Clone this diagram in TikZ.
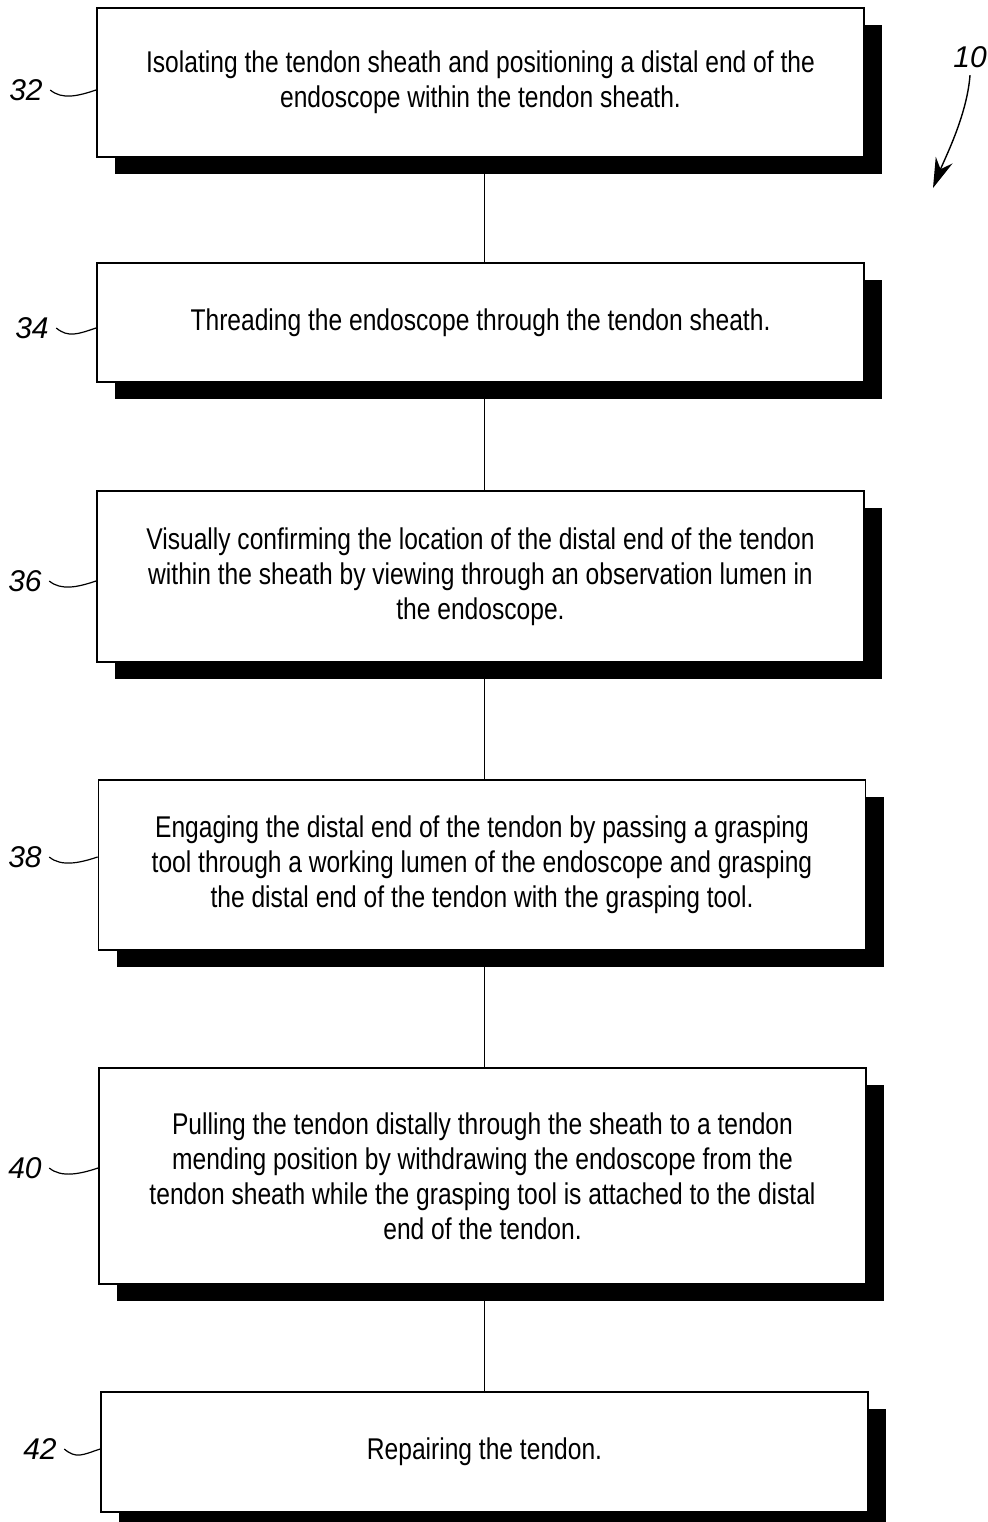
\documentclass[tikz,border=0pt]{standalone}
\usepackage{fontspec}
\setmainfont{Liberation Sans}
\newfontfamily\narrowfont[FakeStretch=0.82]{Liberation Sans}
\usetikzlibrary{shadows,arrows.meta}

\begin{document}
\begin{tikzpicture}[x=0.5pt,y=-0.5pt,line width=0.9pt,
  stepbox/.style={draw, fill=white, minimum width=383.5pt, align=center,
    font=\narrowfont\fontsize{15}{17.5}\selectfont,
    drop shadow={shadow xshift=9pt,shadow yshift=-8.5pt,fill=black,opacity=1}},
  reflabel/.style={font=\itshape\fontsize{15}{15}\selectfont}]
\useasboundingbox (0,0) rectangle (988,1522);

% steps
\node[stepbox, minimum height=74.5pt] (Isolate) at (480.5,82.5)
  {Isolating the tendon sheath and positioning a distal end of the\\
   endoscope within the tendon sheath.};
\node[stepbox, minimum height=59.5pt] (Thread) at (480.5,322.5)
  {Threading the endoscope through the tendon sheath.};
\node[stepbox, minimum height=85.5pt] (Confirm) at (480.5,576.5)
  {Visually confirming the location of the distal end of the tendon\\
   within the sheath by viewing through an observation lumen in\\
   the endoscope.};
\node[stepbox, minimum height=85pt] (Engage) at (482,865)
  {Engaging the distal end of the tendon by passing a grasping\\
   tool through a working lumen of the endoscope and grasping\\
   the distal end of the tendon with the grasping tool.};
\node[stepbox, minimum height=108pt] (Pull) at (482.5,1176)
  {Pulling the tendon distally through the sheath to a tendon\\
   mending position by withdrawing the endoscope from the\\
   tendon sheath while the grasping tool is attached to the distal\\
   end of the tendon.};
\node[stepbox, minimum height=60pt] (Repair) at (484.5,1452)
  {Repairing the tendon.};

% connectors
\foreach \a/\b in {Isolate/Thread,Thread/Confirm,Confirm/Engage,Engage/Pull,Pull/Repair}
  \draw (\a.south -| Repair) -- (\b.north -| Repair);

% reference numerals
\node[reflabel] (L32) at (26,90) {32};
\node[reflabel] (L34) at (32,328) {34};
\node[reflabel] (L36) at (25,581) {36};
\node[reflabel] (L38) at (25,857) {38};
\node[reflabel] (L40) at (25,1168) {40};
\node[reflabel] (L42) at (40,1449) {42};
\foreach \l/\s in {L32/Isolate,L34/Thread,L36/Confirm,L38/Engage,L40/Pull,L42/Repair}
  \draw[line width=0.6pt] (\l.east) .. controls +(12,10) and +(-18,6) .. (\s.west |- \l.east);

\node[reflabel] (Ref) at (970,57) {10};
\coordinate (RefTip) at (933,188);
\draw[line width=0.7pt,-{Stealth[length=15pt,width=9pt]}] (Ref.south) .. controls +(-3,40) and +(12,-30) .. (RefTip);
\end{tikzpicture}
\end{document}
